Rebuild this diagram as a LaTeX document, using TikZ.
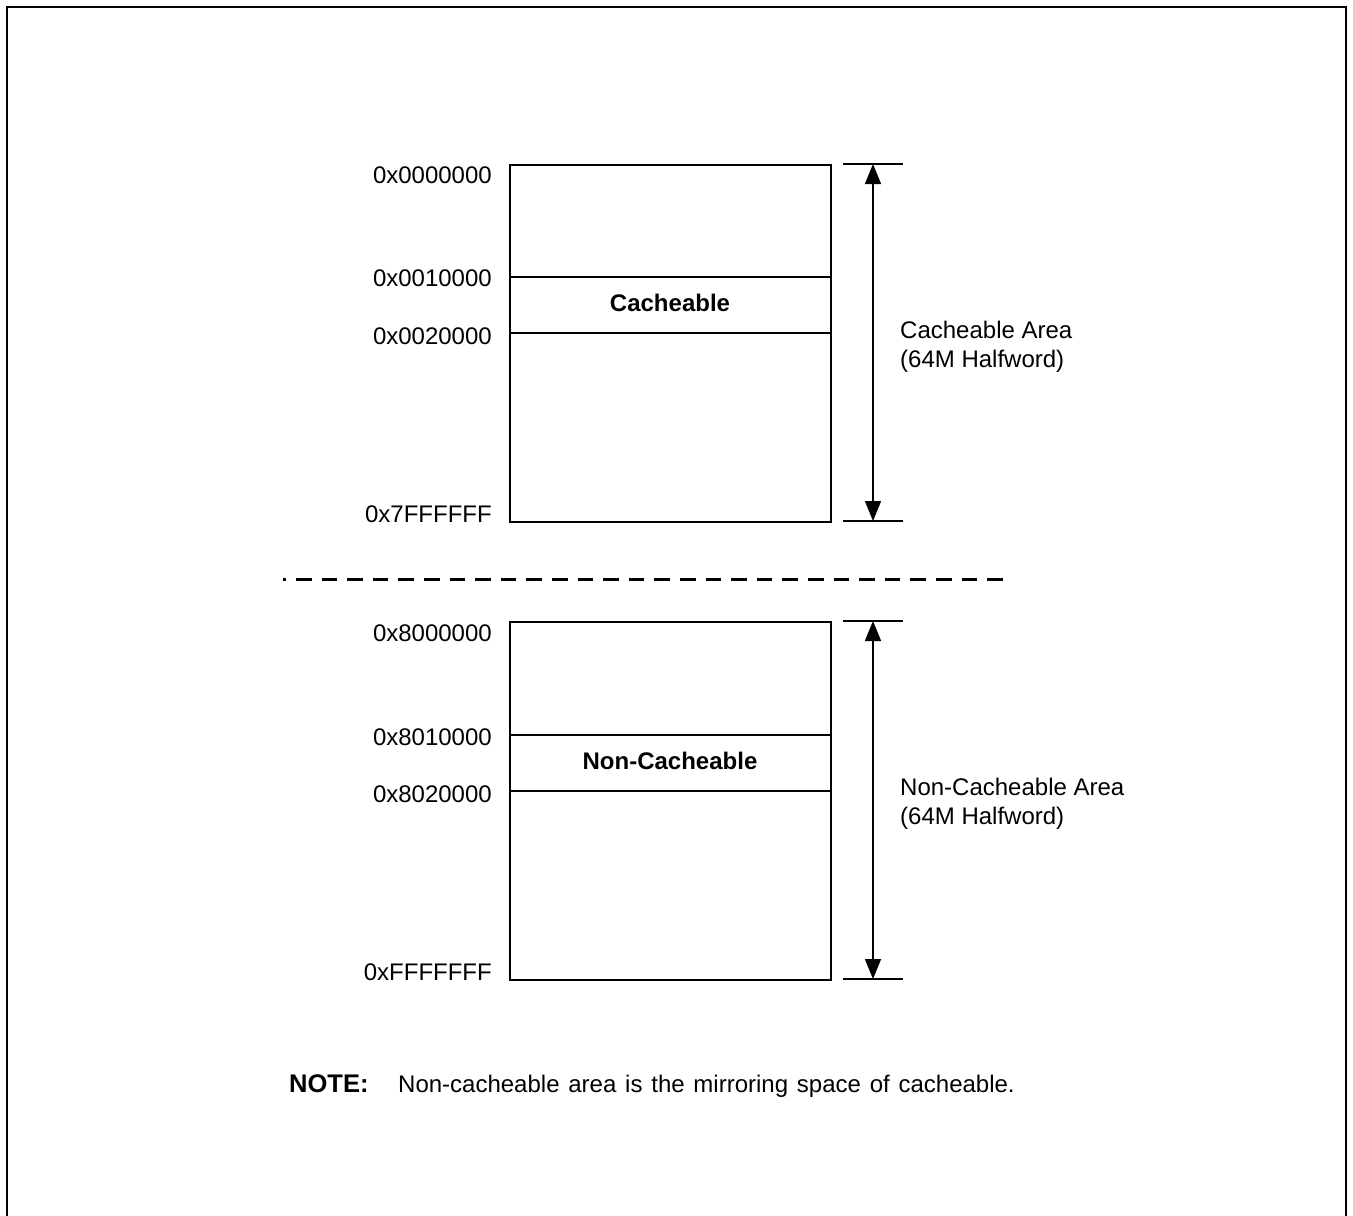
\documentclass[tikz,border=0pt]{standalone}
\usepackage{fontspec}
\setmainfont{Liberation Sans}
\usetikzlibrary{arrows.meta}
\begin{document}
\begin{tikzpicture}[x=1pt,y=-1pt,
  lbl/.style={font=\fontsize{24}{28}\selectfont, inner sep=0pt},
  bold/.style={lbl, font=\fontsize{24}{28}\selectfont\bfseries},
  addr/.style={lbl, anchor=east},
  boxline/.style={line width=1.5pt},
  tick/.style={line width=1.5pt},
  dim/.style={line width=1.5pt, {Triangle[width=16pt,length=20pt]}-{Triangle[width=16pt,length=20pt]}}]
\useasboundingbox (0,0) rectangle (1353,1216);
\draw[line width=2.5pt] (7,1220) -- (7,7) -- (1346,7) -- (1346,1220);
% upper box
\node[draw, boxline, minimum width=321pt, minimum height=357pt, anchor=north west, inner sep=0pt] (b1) at (509,164) {};
\coordinate (u1l) at (509,277); \coordinate (u1r) at (830,277);
\coordinate (u2l) at (509,333); \coordinate (u2r) at (830,333);
\draw[boxline] (u1l) -- (u1r);
\draw[boxline] (u2l) -- (u2r);
\node[bold] (c1) at (670,303) {Cacheable};
\node[addr] (a1) at (492,175) {0x0000000};
\node[addr] (a2) at (492,278) {0x0010000};
\node[addr] (a3) at (492,336) {0x0020000};
\node[addr] (a4) at (492,514) {0x7FFFFFF};
\coordinate (t1l) at (843,164); \coordinate (t1r) at (903,164);
\coordinate (t2l) at (843,521); \coordinate (t2r) at (903,521);
\draw[tick] (t1l) -- (t1r);
\draw[tick] (t2l) -- (t2r);
\coordinate (d1a) at (873,164); \coordinate (d1b) at (873,521);
\draw[dim] (d1a) -- (d1b);
\node[lbl, anchor=base west] (r1) at (900,338) {Cacheable Area};
\node[lbl, anchor=base west] (r2) at (900,367) {(64M Halfword)};
% dashed separator
\coordinate (s1) at (283,579); \coordinate (s2) at (1003,579);
\draw[line width=3pt, dash pattern=on 15.6pt off 10pt, dash phase=12.6pt] (s1) -- (s2);
% lower box
\node[draw, boxline, minimum width=321pt, minimum height=358pt, anchor=north west, inner sep=0pt] (b2) at (509,621) {};
\coordinate (l1l) at (509,735); \coordinate (l1r) at (830,735);
\coordinate (l2l) at (509,791); \coordinate (l2r) at (830,791);
\draw[boxline] (l1l) -- (l1r);
\draw[boxline] (l2l) -- (l2r);
\node[bold] (c2) at (670,761) {Non-Cacheable};
\node[addr] (a5) at (492,633) {0x8000000};
\node[addr] (a6) at (492,737) {0x8010000};
\node[addr] (a7) at (492,794) {0x8020000};
\node[addr] (a8) at (492,972) {0xFFFFFFF};
\coordinate (t3l) at (843,621); \coordinate (t3r) at (903,621);
\coordinate (t4l) at (843,979); \coordinate (t4r) at (903,979);
\draw[tick] (t3l) -- (t3r);
\draw[tick] (t4l) -- (t4r);
\coordinate (d2a) at (873,621); \coordinate (d2b) at (873,979);
\draw[dim] (d2a) -- (d2b);
\node[lbl, anchor=base west] (r3) at (900,795) {Non-Cacheable Area};
\node[lbl, anchor=base west] (r4) at (900,824) {(64M Halfword)};
% note
\node[bold, anchor=base west, font=\fontsize{25.5}{29}\selectfont\bfseries] (n1) at (289,1092) {NOTE:};
\node[lbl, anchor=base west] (n2) at (398,1092) {\spaceskip=8.8pt\relax Non-cacheable area is the mirroring space of cacheable.};
\end{tikzpicture}
\end{document}
